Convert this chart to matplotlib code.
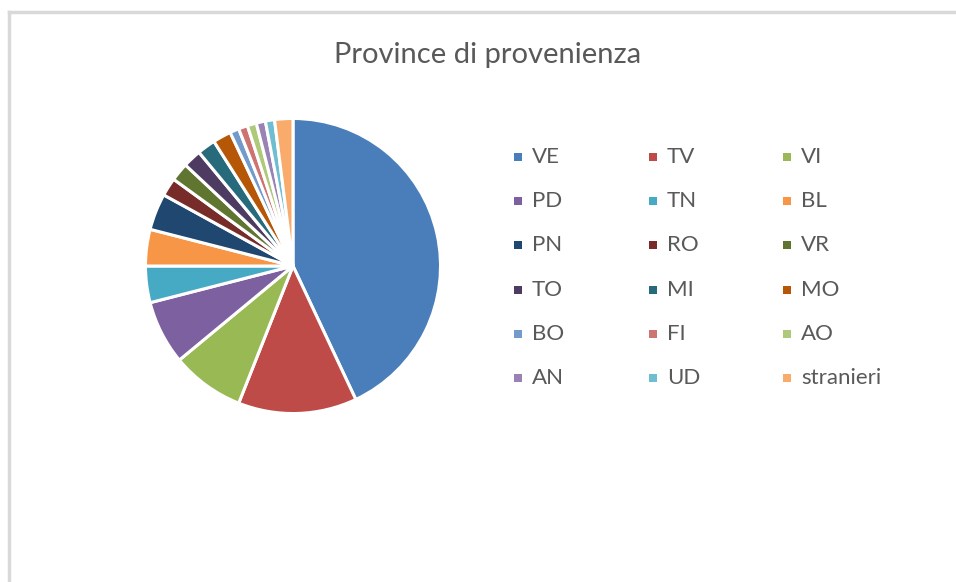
import matplotlib
matplotlib.use("Agg")
import matplotlib.pyplot as plt
from matplotlib.patches import Rectangle
from matplotlib.lines import Line2D

title = "Province di provenienza"
labels = ["VE", "TV", "VI", "PD", "TN", "BL", "PN", "RO", "VR",
          "TO", "MI", "MO", "BO", "FI", "AO", "AN", "UD", "stranieri"]
values = [43, 13, 8, 7, 4, 4, 4, 2, 2, 2, 2, 2, 1, 1, 1, 1, 1, 2]
colors = ["#4A7EBB", "#BE4B48", "#98B954", "#7D60A0", "#46AAC5", "#F79646",
          "#1F4770", "#772C2A", "#5F7530", "#4D3B62", "#276A7C", "#B65708",
          "#729ACA", "#CD7371", "#AFC97A", "#9983B5", "#6FBDD1", "#F9AB6B"]

W, H = 956, 582
fig = plt.figure(figsize=(W / 100, H / 100), dpi=100)

# frame
fig.add_artist(Line2D([9 / W, 9 / W], [0, 1 - 12 / H], color="#D9D9D9", lw=2.5))
fig.add_artist(Line2D([9 / W, 1], [1 - 12 / H, 1 - 12 / H], color="#D9D9D9", lw=2.5))

fig.text(488 / W, 1 - 55 / H, title, ha="center", va="center",
         fontsize=21, color="#595959", family=["Lato", "DejaVu Sans"])

cx, cy, r = 293, 266, 149
ax = fig.add_axes([(cx - r) / W, 1 - (cy + r) / H, 2 * r / W, 2 * r / H])
ax.pie(values, colors=colors, startangle=90, counterclock=False,
       wedgeprops=dict(edgecolor="white", linewidth=2.2))
ax.set_xlim(-1.01, 1.01)
ax.set_ylim(-1.01, 1.01)
ax.set_aspect("equal")
ax.axis("off")

col_x = [518, 653, 787]
row_y0, row_dy = 157, 44.2
for i, (lab, col) in enumerate(zip(labels, colors)):
    c, rr = i % 3, i // 3
    x = col_x[c]
    y = row_y0 + rr * row_dy
    fig.add_artist(Rectangle(((x - 4) / W, 1 - (y + 4) / H), 8 / W, 8 / H,
                             facecolor=col, edgecolor="none",
                             transform=fig.transFigure))
    fig.text((x + 14) / W, 1 - y / H, lab, ha="left", va="center",
             fontsize=16, color="#595959", family=["Lato", "DejaVu Sans"])

fig.savefig("out.png", dpi=100, facecolor="white")
